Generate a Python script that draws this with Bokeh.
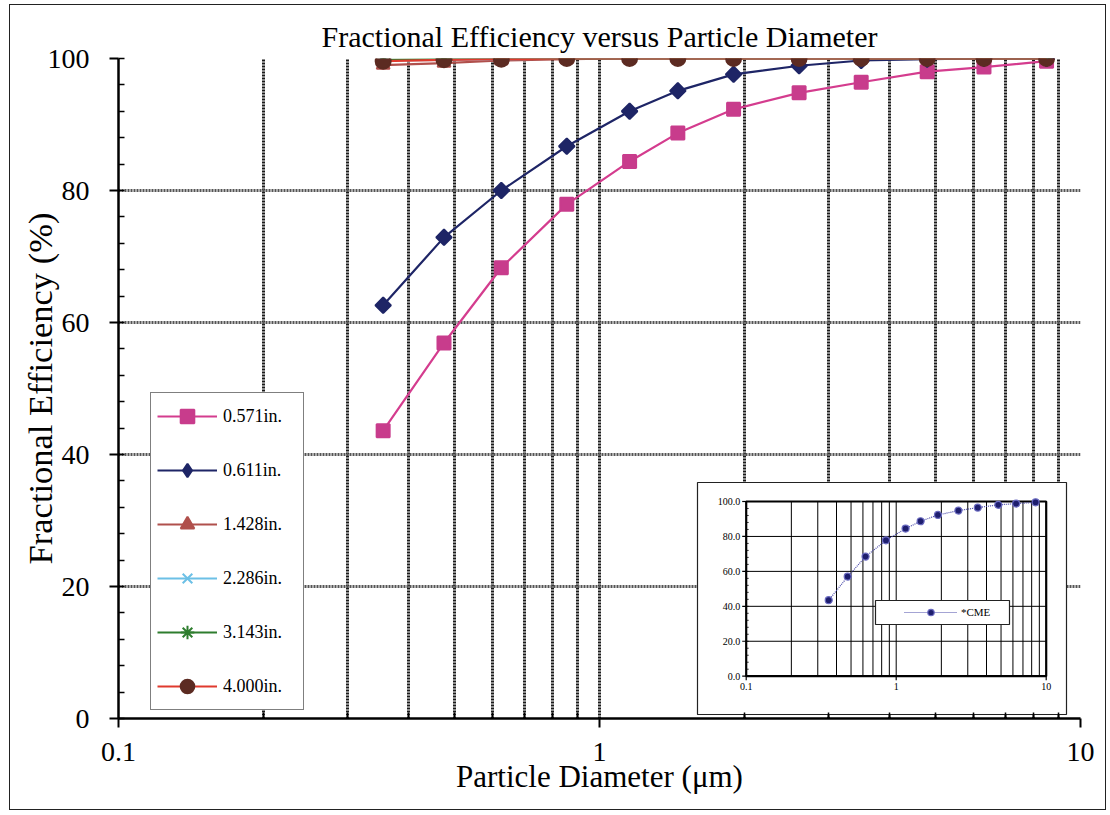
import numpy as np
from bokeh.plotting import figure
from bokeh.models import (FixedTicker, LogScale, LinearScale, Range1d, Legend, LegendItem,
                          CustomJSTickFormatter)
from bokeh.embed import file_html
from bokeh.resources import INLINE
from bokeh.core.properties import value

# ---------------- data ----------------
diameter = [0.355, 0.475, 0.625, 0.855, 1.155, 1.455, 1.9, 2.6, 3.5, 4.8, 6.3, 8.5]
eff_0571 = [43.6, 56.9, 68.3, 77.9, 84.4, 88.7, 92.3, 94.8, 96.4, 98.0, 98.7, 99.6]
eff_0611 = [62.6, 72.9, 80.0, 86.7, 92.0, 95.1, 97.6, 98.9, 99.7, 99.9, 100.0, 100.0]
eff_1428 = [99.0, 99.3, 99.7, 99.9, 100.0, 100.0, 100.0, 100.0, 100.0, 100.0, 100.0, 100.0]
eff_2286 = [99.7, 99.8, 99.9, 100.0, 100.0, 100.0, 100.0, 100.0, 100.0, 100.0, 100.0, 100.0]
eff_3143 = [99.8, 99.9, 100.0, 100.0, 100.0, 100.0, 100.0, 100.0, 100.0, 100.0, 100.0, 100.0]
eff_4000 = [99.6, 99.8, 99.9, 100.0, 100.0, 100.0, 100.0, 100.0, 100.0, 100.0, 100.0, 100.0]
cme_eff = [43.5, 57.0, 68.5, 77.8, 84.5, 88.7, 92.3, 94.8, 96.5, 98.1, 98.8, 99.5]

series_labels = ["0.571in.", "0.611in.", "1.428in.", "2.286in.", "3.143in.", "4.000in."]
cme_label = "*CME"
x_ticks = [0.1, 1, 10]
x_minor = [m * 10.0 ** e for e in (-1, 0) for m in range(2, 10)]
y_ticks = [0, 20, 40, 60, 80, 100]
y_minor = list(range(0, 101, 4))
inset_y_labels = ["0.0", "20.0", "40.0", "60.0", "80.0", "100.0"]
inset_x_labels = ["0.1", "1", "10"]

SERIF = "Liberation Serif"

# ---------------- layout (page px -> canvas px) ----------------
OX, OY = 9, 4
W, H = 1097, 806

def cx(px):
    return px - OX - 1

def cy(py):
    return py - OY - 1

FL, FR, FT, FB = cx(118), cx(1080), cy(58), cy(718)              # main frame
iL, iR, iT, iB = cx(745.7), cx(1045.7), cy(501.0), cy(675.7)     # inset frame
dec = (iR - iL) / 2.0
ypp = (iB - iT) / 100.0

def ix(px_page):
    return 10 ** (-1 + (cx(px_page) - iL) / dec)

def iy(py_page):
    return (iB - cy(py_page)) / ypp

p = figure(width=W, height=H, x_axis_type="log", x_range=Range1d(0.1, 10), y_range=Range1d(0, 100),
           output_backend="svg", toolbar_location=None,
           min_border_left=FL, min_border_right=W - FR, min_border_top=FT, min_border_bottom=H - FB,
           title="Fractional Efficiency versus Particle Diameter")
p.outline_line_color = None
p.background_fill_color = "white"
p.border_fill_color = "white"
p.styles = {"border": "1px solid #222", "margin-left": "%dpx" % OX, "margin-top": "%dpx" % OY}

p.title.text_font = SERIF
p.title.text_font_size = "30px"
p.title.text_font_style = "normal"
p.title.align = "center"
p.title.text_color = "black"
p.title.standoff = 11

# axes
p.xaxis.ticker = FixedTicker(ticks=x_ticks, minor_ticks=x_minor)
p.xaxis.formatter = CustomJSTickFormatter(code="return tick.toString();")
p.yaxis.ticker = FixedTicker(ticks=y_ticks, minor_ticks=y_minor)
p.xaxis.axis_label = "Particle Diameter (\u03bcm)"
p.yaxis.axis_label = "Fractional Efficiency (%)"
for ax in (p.xaxis, p.yaxis):
    ax.axis_line_width = 2.5
    ax.axis_line_color = "black"
    ax.major_tick_line_width = 2
    ax.major_tick_line_color = "black"
    ax.major_tick_out = 9
    ax.major_tick_in = 0
    ax.minor_tick_in = 6
    ax.minor_tick_out = 0
    ax.minor_tick_line_width = 1.5
    ax.minor_tick_line_color = "black"
    ax.major_label_text_font = SERIF
    ax.major_label_text_font_size = "28px"
    ax.major_label_text_color = "black"
    ax.axis_label_text_font = SERIF
    ax.axis_label_text_font_style = "normal"
    ax.axis_label_text_color = "black"
p.xaxis.axis_label_text_font_size = "31px"
p.yaxis.axis_label_text_font_size = "34.5px"
p.xaxis.major_label_standoff = 15
p.yaxis.major_label_standoff = 20
p.xaxis.axis_label_standoff = -5
p.yaxis.axis_label_standoff = -14

# grids
p.xgrid.ticker = FixedTicker(ticks=x_ticks, minor_ticks=x_minor)
p.xgrid.grid_line_color = "#1a1a1a"
p.xgrid.grid_line_width = 3
p.xgrid.grid_line_dash = "2 1"
p.xgrid.minor_grid_line_color = "#1a1a1a"
p.xgrid.minor_grid_line_width = 3
p.xgrid.minor_grid_line_dash = "2 1"
p.ygrid.ticker = FixedTicker(ticks=y_ticks)
p.ygrid.grid_line_color = "#555555"
p.ygrid.grid_line_width = 3
p.ygrid.grid_line_dash = "2 1"

# ---------------- main series ----------------
styles = [
    dict(color="#D43C8E", marker="square", size=13, angle=0, fill="#C83C8C", mline="#C83C8C", lmarker="square"),
    dict(color="#1E2566", marker="square", size=11, angle=np.pi / 4, fill="#1E2566", mline="#1E2566", lmarker="diamond"),
    dict(color="#B0504C", marker="triangle", size=13, angle=0, fill="#B0504C", mline="#B0504C", lmarker="triangle"),
    dict(color="#6CC0E6", marker="x", size=12, angle=0, fill="#6CC0E6", mline="#6CC0E6", lmarker="x"),
    dict(color="#2E7D2E", marker="asterisk", size=12, angle=0, fill="#2E7D2E", mline="#2E7D2E", lmarker="asterisk"),
    dict(color="#E03A2E", marker="circle", size=15, angle=0, fill="#5C2B22", mline="#5C2B22", lmarker="circle"),
]
all_series = [eff_0571, eff_0611, eff_1428, eff_2286, eff_3143, eff_4000]
items = []
for lab, vals, st in zip(series_labels, all_series, styles):
    lr = p.line(diameter, vals, line_color=st["color"], line_width=2.2)
    sr = p.scatter(diameter, vals, marker=st["marker"], size=st["size"], angle=st["angle"],
                   fill_color=st["fill"], line_color=st["mline"], line_width=2)
    # legend-only symbol (a single undrawable point)
    kr = p.scatter(x=[float("nan")], y=[float("nan")], marker=st["lmarker"], size=st["size"],
                   fill_color=st["fill"], line_color=st["mline"], line_width=2)
    items.append(LegendItem(label=lab, renderers=[lr, kr]))

leg = Legend(items=items, location=(cx(150) - FL, FB - cy(710)), orientation="vertical",
             padding=6, spacing=20, glyph_height=34, glyph_width=60, label_height=34,
             label_width=74, label_standoff=6, margin=0,
             label_text_font=SERIF, label_text_font_size="18px", label_text_color="black",
             border_line_color="black", border_line_width=1.2,
             background_fill_color="white", background_fill_alpha=1.0)
p.add_layout(leg, "center")

# ---------------- inset chart ----------------
p.extra_x_ranges = {"inset": Range1d(10 ** (-1 + (FL - iL) / dec), 10 ** (-1 + (FR - iL) / dec))}
p.extra_y_ranges = {"inset": Range1d((iB - FB) / ypp, (iB - FT) / ypp)}
p.extra_x_scales = {"inset": LogScale()}
p.extra_y_scales = {"inset": LinearScale()}
IN = dict(x_range_name="inset", y_range_name="inset")

# inset panel
p.quad(left=[ix(697)], right=[ix(1066)], top=[iy(482)], bottom=[iy(714)],
       fill_color="white", line_color="#222222", line_width=1.2, **IN)

# inset grid
gx = [t for t in x_minor] + [1]
p.segment(x0=gx, y0=[0] * len(gx), x1=gx, y1=[100] * len(gx), line_color="black", line_width=1, **IN)
gy = y_ticks[1:-1]
p.segment(x0=[0.1] * len(gy), y0=gy, x1=[10] * len(gy), y1=gy, line_color="black", line_width=1, **IN)
# inset frame
p.quad(left=[0.1], right=[10], bottom=[0], top=[100], fill_color=None,
       line_color="black", line_width=2.2, **IN)
# inset ticks
p.segment(x0=[ix(745.7 - 4)] * len(y_ticks), y0=y_ticks, x1=[0.1] * len(y_ticks), y1=y_ticks,
          line_color="black", line_width=1.2, **IN)
p.segment(x0=[0.1] * len(y_minor), y0=y_minor, x1=[ix(745.7 + 2.5)] * len(y_minor), y1=y_minor,
          line_color="black", line_width=0.8, **IN)
p.segment(x0=x_ticks, y0=[0] * 3, x1=x_ticks, y1=[iy(675.7 + 4)] * 3,
          line_color="black", line_width=1.2, **IN)

# inset tick labels
p.text(x=[0.1] * len(y_ticks), y=y_ticks, text=inset_y_labels, x_offset=-6,
       text_align="right", text_baseline="middle", text_font=value(SERIF),
       text_font_size="10px", text_color="black", **IN)
p.text(x=x_ticks, y=[0] * 3, text=inset_x_labels, y_offset=7,
       text_align="center", text_baseline="top", text_font=value(SERIF),
       text_font_size="10px", text_color="black", **IN)

# inset series
cl = p.line(diameter, cme_eff, line_color="#4848A8", line_width=1.2, line_dash="1 1", **IN)
cs = p.scatter(diameter, cme_eff, marker="circle", size=7, fill_color="#1E1E6E",
               line_color="#6A6AC0", line_width=1.2, **IN)

# inset legend box + legend
p.quad(left=[ix(875)], right=[ix(1009)], top=[iy(600)], bottom=[iy(624)],
       fill_color="white", line_color="#222222", line_width=1.2, **IN)
leg2 = Legend(items=[LegendItem(label=cme_label, renderers=[cl, cs])],
              location=(cx(904) - FL, FB - cy(620)), padding=0, margin=0, spacing=0,
              glyph_width=53, glyph_height=16, label_height=16, label_standoff=4,
              label_text_font=SERIF, label_text_font_size="11px", label_text_color="black",
              border_line_color=None, background_fill_alpha=0.0)
p.add_layout(leg2, "center")

open("out.html", "w").write(file_html(p, INLINE))
